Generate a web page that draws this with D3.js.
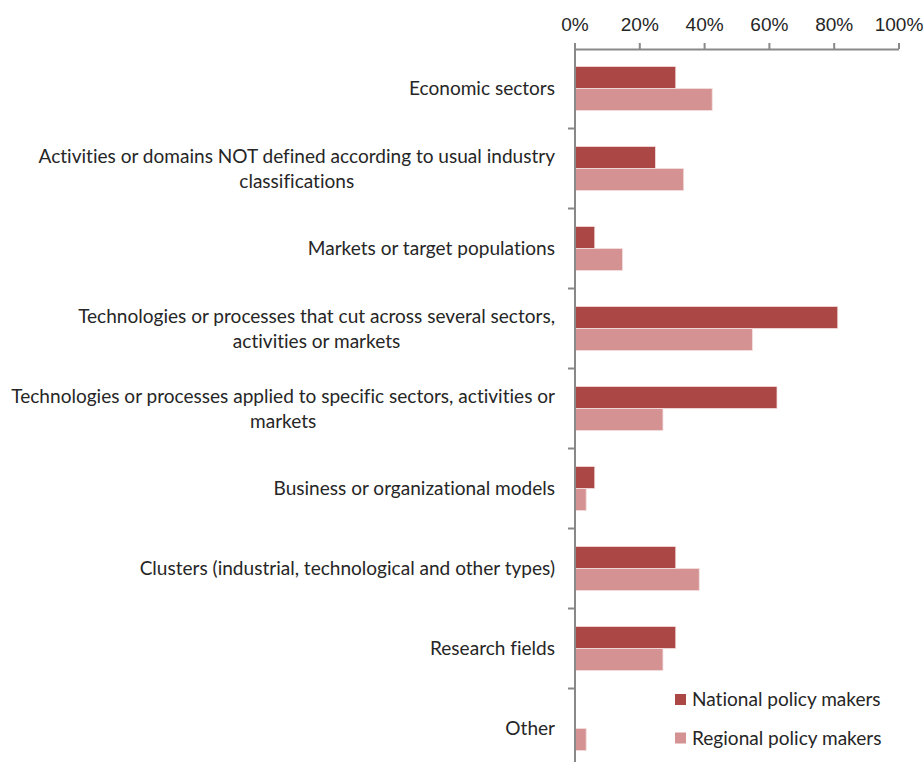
<!DOCTYPE html>
<html>
<head>
<meta charset="utf-8">
<script src="https://cdn.jsdelivr.net/npm/d3@7"></script>
<style>
  html, body { margin: 0; padding: 0; background: #fff; }
  svg { display: block; }
  text { font-family: Lato, "Open Sans", sans-serif; fill: #262626; font-variant-ligatures: none; font-feature-settings: "liga" 0, "clig" 0; }
</style>
</head>
<body>
<svg id="chart" width="924" height="762"></svg>
<script>
// Category labels (each entry is the list of lines drawn for that label)
const categories = [
  ["Economic sectors"],
  ["Activities or domains NOT defined according to usual industry", "classifications"],
  ["Markets or target populations"],
  ["Technologies or processes that cut across several sectors,", "activities or markets"],
  ["Technologies or processes applied to specific sectors, activities or", "markets"],
  ["Business or organizational models"],
  ["Clusters (industrial, technological and other types)"],
  ["Research fields"],
  ["Other"]
];
const seriesNames = ["National policy makers", "Regional policy makers"];
const nationalValues = [0.3125, 0.25, 0.0625, 0.8125, 0.625, 0.0625, 0.3125, 0.3125, 0];
const regionalValues = [0.425, 0.337, 0.148, 0.549, 0.273, 0.036, 0.385, 0.273, 0.036];
const tickValues = [0, 0.2, 0.4, 0.6, 0.8, 1.0];
const colors = ["#AB4745", "#D49392"];

const svg = d3.select("#chart");
const axisColor = "#898989";

const x = d3.scaleLinear().domain([0, 1]).range([574.5, 898.5]);
const y = d3.scaleBand().domain(d3.range(categories.length)).range([48.5, 768.5]).paddingInner(0).paddingOuter(0);
const bandH = y.bandwidth();
const barH = 22;
const groupTop = (bandH - 2 * barH) / 2;

// Fit label font size so the longest line spans the available width
const probe = svg.append("text").attr("font-size", 18).text(categories[4][0]);
const probeW = probe.node().getComputedTextLength();
probe.remove();
const fs = 18 * 544 / probeW;

// Bars
const series = [nationalValues, regionalValues];
series.forEach((vals, s) => {
  svg.append("g").selectAll("rect")
    .data(vals)
    .join("rect")
    .attr("x", x(0))
    .attr("y", (d, i) => y(i) + groupTop + s * barH)
    .attr("width", d => Math.max(0, x(d) - x(0)))
    .attr("height", barH)
    .attr("fill", colors[s])
    .attr("stroke", d => d > 0 ? "#f3dede" : "none")
    .attr("stroke-width", 0.8);
});

// Top value axis
const xAxis = d3.axisTop(x)
  .tickValues(tickValues)
  .tickFormat(d3.format(".0%"))
  .tickSize(6)
  .tickSizeOuter(0)
  .tickPadding(12);
const gx = svg.append("g").attr("transform", "translate(0,49)").call(xAxis);
gx.select(".domain").attr("stroke", axisColor).attr("stroke-width", 2);
gx.selectAll(".tick line").attr("stroke", axisColor).attr("stroke-width", 2);
gx.selectAll(".tick text")
  .attr("font-size", fs)
  .attr("fill", "#262626")
  .style("font-family", "inherit");

// Left category axis
const yAxis = d3.axisLeft(y).tickSize(0).tickFormat("");
const gy = svg.append("g").attr("transform", "translate(574.5,0)").call(yAxis);
gy.select(".domain").attr("stroke", axisColor).attr("stroke-width", 2);
gy.selectAll(".tick").remove();
// Boundary ticks between categories
svg.append("g").selectAll("line")
  .data(d3.range(1, categories.length))
  .join("line")
  .attr("x1", 568).attr("x2", 575)
  .attr("y1", i => y(i)).attr("y2", i => y(i))
  .attr("stroke", axisColor).attr("stroke-width", 2);

// Category labels, right-aligned beside the axis
const lineH = 25;
const labels = svg.append("g").selectAll("text")
  .data(categories)
  .join("text")
  .attr("text-anchor", "middle")
  .attr("font-size", fs);
labels.each(function(lines, i) {
  const t = d3.select(this);
  const cy = y(i) + bandH / 2;
  const n = lines.length;
  // measure widest line to center multi-line labels against the right edge
  const tmp = svg.append("text").attr("font-size", fs);
  const widths = lines.map(l => { tmp.text(l); return tmp.node().getComputedTextLength(); });
  tmp.remove();
  const maxW = d3.max(widths);
  const cx = 555 - maxW / 2;
  lines.forEach((l, k) => {
    t.append("tspan")
      .attr("x", cx)
      .attr("y", cy + (k - (n - 1) / 2) * lineH)
      .attr("dy", "0.35em")
      .text(l);
  });
});

// Legend
const legend = svg.append("g").attr("transform", "translate(675,694)");
seriesNames.forEach((name, s) => {
  const g = legend.append("g").attr("transform", `translate(0,${s * 38.5})`);
  g.append("rect").attr("width", 11).attr("height", 11).attr("fill", colors[s]);
  g.append("text").attr("x", 17).attr("y", 5.5).attr("dy", "0.35em")
    .attr("font-size", fs).text(name);
});
</script>
</body>
</html>
